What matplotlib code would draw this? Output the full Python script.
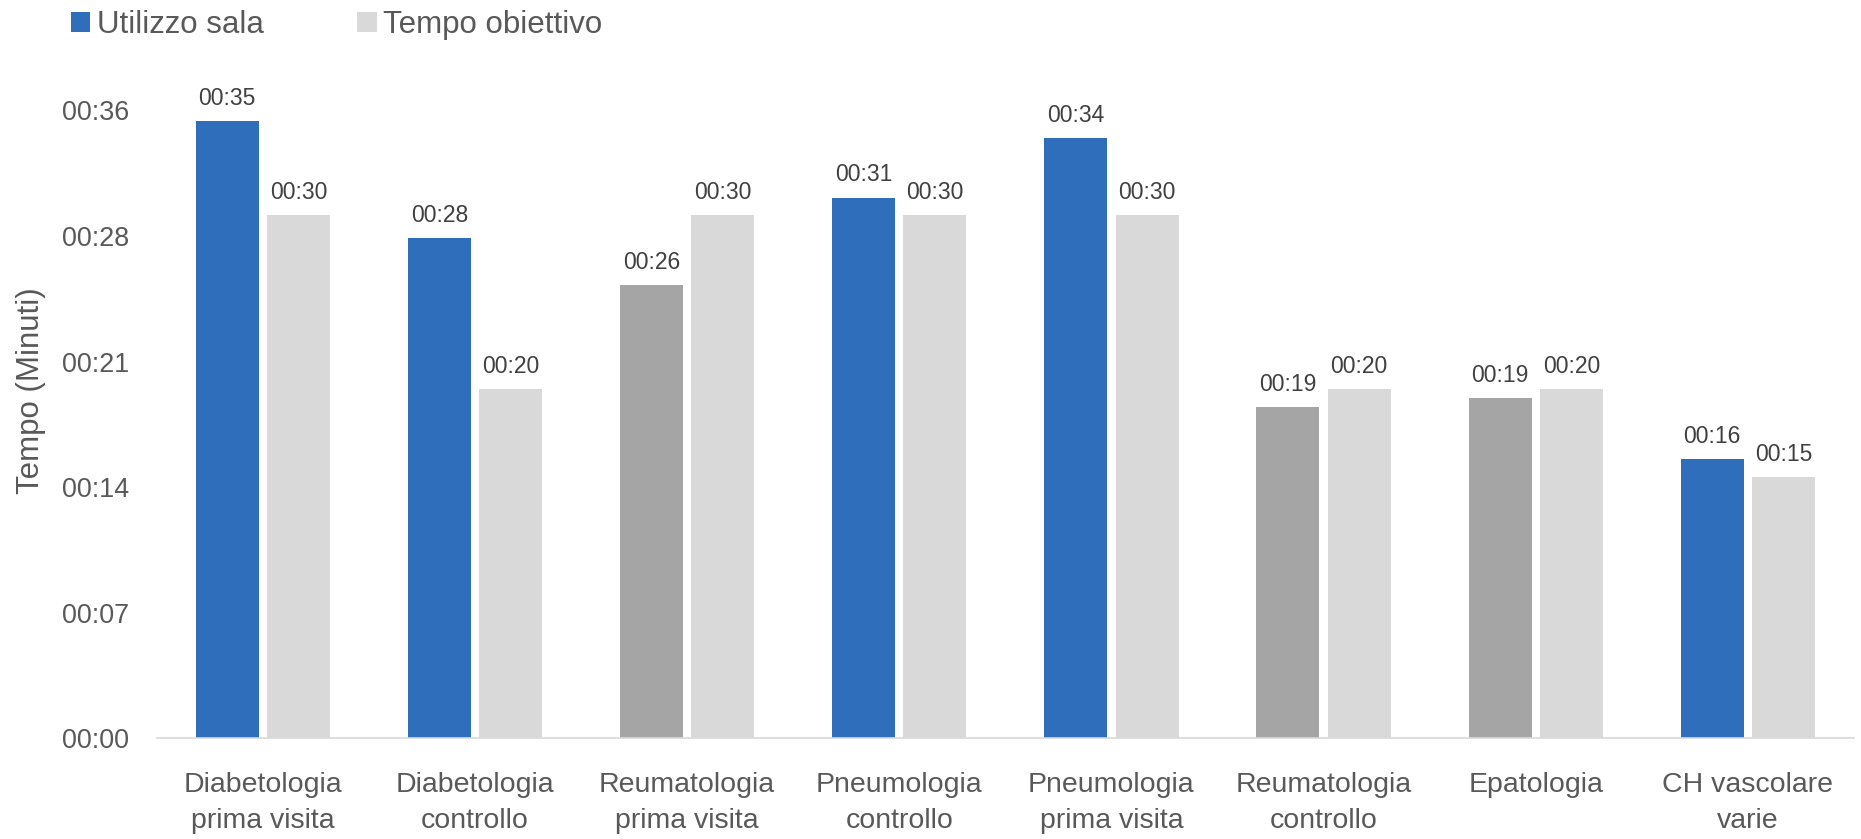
"""Utilizzo sala vs tempo obiettivo per ambulatorio."""

import math

import matplotlib
matplotlib.use("Agg")
import matplotlib.pyplot as plt
from matplotlib.patches import Patch
import numpy as np

# Categorie e tempi in minuti
categories = [
    "Diabetologia\nprima visita",
    "Diabetologia\ncontrollo",
    "Reumatologia\nprima visita",
    "Pneumologia\ncontrollo",
    "Pneumologia\nprima visita",
    "Reumatologia\ncontrollo",
    "Epatologia",
    "CH vascolare\nvarie",
]
utilizzo_sala = [35.4, 28.7, 26.0, 31.0, 34.4, 19.0, 19.5, 16.0]
tempo_obiettivo = [30, 20, 30, 30, 30, 20, 20, 15]

# Tick dell'asse y (minuti), come in Excel: passo 0.005 giorni
y_ticks = [0, 7.2, 14.4, 21.6, 28.8, 36]

BLUE = "#2F6EBA"
DARK_GRAY = "#A5A5A5"
LIGHT_GRAY = "#D9D9D9"
TEXT = "#595959"
LABEL = "#404040"

plt.rcParams["font.family"] = ["Liberation Sans", "DejaVu Sans"]


def fmt_time(minutes):
    return f"00:{int(math.floor(minutes + 1e-9)):02d}"


def main():
    fig = plt.figure(figsize=(18.61, 8.39), dpi=100)
    ax = fig.add_axes([0.0842, 0.1201, 0.9120, 0.7483])

    x = np.arange(len(categories))
    width = 0.297
    offset = 0.168

    # grigio scuro quando l'utilizzo resta sotto l'obiettivo
    colors = [BLUE if u >= t else DARK_GRAY for u, t in zip(utilizzo_sala, tempo_obiettivo)]

    bars_u = ax.bar(x - offset, utilizzo_sala, width, color=colors)
    bars_t = ax.bar(x + offset, tempo_obiettivo, width, color=LIGHT_GRAY)

    for bars, vals in ((bars_u, utilizzo_sala), (bars_t, tempo_obiettivo)):
        for b, v in zip(bars, vals):
            ax.annotate(fmt_time(v), (b.get_x() + b.get_width() / 2, v),
                        xytext=(0, 8), textcoords="offset points",
                        ha="center", va="bottom", fontsize=16.5, color=LABEL)

    ax.set_xlim(-0.5, len(categories) - 0.5)
    ax.set_ylim(0, 36)
    ax.set_yticks(y_ticks)
    ax.set_yticklabels([fmt_time(v) for v in y_ticks])
    ax.set_xticks(x)
    ax.set_xticklabels(categories, linespacing=1.5)

    ax.tick_params(axis="y", length=0, labelsize=19.4, colors=TEXT, pad=19.7)
    ax.tick_params(axis="x", length=0, labelsize=20.5, colors=TEXT, pad=24)

    for side in ("top", "right", "left"):
        ax.spines[side].set_visible(False)
    ax.spines["bottom"].set_color(LIGHT_GRAY)
    ax.spines["bottom"].set_linewidth(1.2)

    fig.text(31 / 1861, 0.5346, "Tempo (Minuti)", rotation=90, ha="center", va="center",
             fontsize=22.5, color=TEXT)

    handles = [Patch(facecolor=BLUE, edgecolor="none", label="Utilizzo sala"),
               Patch(facecolor=LIGHT_GRAY, edgecolor="none", label="Tempo obiettivo")]
    fig.legend(handles=handles, loc="center left", bbox_to_anchor=(0.0231, 0.9700),
               ncol=2, frameon=False, fontsize=22.5, labelcolor=TEXT,
               handlelength=0.62, handleheight=0.62, handletextpad=0.2,
               columnspacing=3.0)

    fig.savefig("out.png", dpi=100)


if __name__ == "__main__":
    main()
